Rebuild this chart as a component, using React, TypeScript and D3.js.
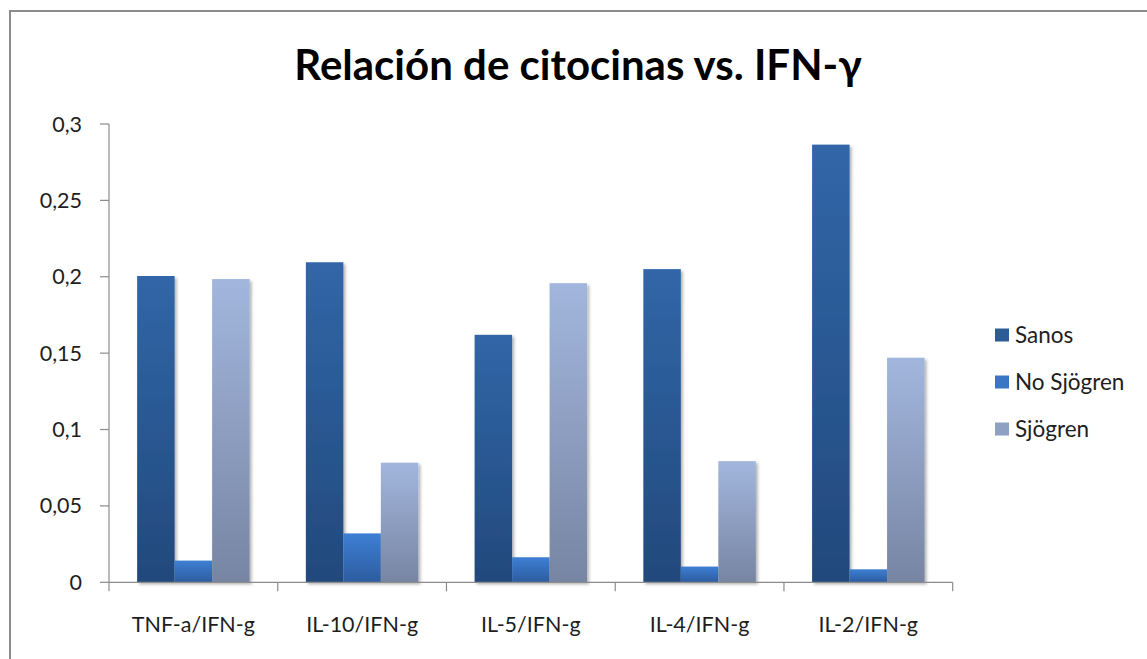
import * as d3 from "d3";

// categories along the x axis
const categories = [
  "TNF-a/IFN-g",
  "IL-10/IFN-g",
  "IL-5/IFN-g",
  "IL-4/IFN-g",
  "IL-2/IFN-g",
];

// series names, in legend order
const seriesNames = ["Sanos", "No Sjögren", "Sjögren"];

// values
const sanos = [0.2005, 0.2095, 0.162, 0.205, 0.2865];
const noSjogren = [0.0142, 0.032, 0.0164, 0.0103, 0.0085];
const sjogren = [0.1985, 0.0783, 0.1958, 0.0793, 0.147];

const yTicks = [0, 0.05, 0.1, 0.15, 0.2, 0.25, 0.3];

// gradient colours per series: [top, bottom, legend swatch]
const seriesColors = [
  ["#3166a8", "#22497c", "#2c5b96"],
  ["#3d7fd4", "#2d5c9f", "#3a76c6"],
  ["#a2b6dd", "#7785a3", "#8fa1c3"],
];

const width = 1147;
const height = 659;
const margin = { left: 109, right: 952.7, top: 124, bottom: 582.3 };

const font = "Lato, 'Open Sans', sans-serif";

export default function App() {
  const series = [sanos, noSjogren, sjogren];

  const x = d3
    .scaleBand<string>()
    .domain(categories)
    .range([margin.left, margin.right])
    .paddingInner(0)
    .paddingOuter(0);

  // gap width 150%: bars take 2/3 of the category, 1/6 empty on each side
  const inner = d3
    .scaleBand<number>()
    .domain(d3.range(seriesNames.length))
    .range([x.bandwidth() / 6, (x.bandwidth() * 5) / 6]);

  const y = d3.scaleLinear().domain([0, 0.3]).range([margin.bottom, margin.top]);

  const fmt = (v: number) => String(+v.toFixed(2)).replace(".", ",");

  const boundaries = d3.range(categories.length + 1).map((i) => margin.left + i * x.bandwidth());

  return (
    <svg
      width={width}
      height={height}
      style={{ position: "absolute", left: 0, top: 0, background: "#fff" }}
    >
      <defs>
        {seriesColors.map((c, i) => (
          <linearGradient key={i} id={`grad${i}`} x1="0" y1="0" x2="0" y2="1">
            <stop offset="0%" stopColor={c[0]} />
            <stop offset="100%" stopColor={c[1]} />
          </linearGradient>
        ))}
        <filter id="shadow" x="-20%" y="-5%" width="150%" height="115%">
          <feDropShadow dx="2" dy="2" stdDeviation="1.8" floodColor="#000" floodOpacity="0.3" />
        </filter>
      </defs>

      <rect width={width} height={height} fill="#fff" />
      {/* outer chart frame */}
      <rect x={10} y={11} width={width + 20} height={height + 20} fill="none" stroke="#8c8c8c" strokeWidth={2} />

      <text
        x={578}
        y={80}
        textAnchor="middle"
        fontFamily={font}
        fontWeight="bold"
        fontSize={42}
        fill="#000"
      >
        Relación de citocinas vs. IFN-γ
      </text>

      {/* bars */}
      {series.map((values, s) => (
        <g key={s} fill={`url(#grad${s})`} filter="url(#shadow)">
          {values.map((v, i) => (
            <rect
              key={i}
              x={(x(categories[i]) ?? 0) + (inner(s) ?? 0)}
              y={y(v)}
              width={inner.bandwidth()}
              height={y(0) - y(v)}
            />
          ))}
        </g>
      ))}

      {/* axes */}
      <g stroke="#8c8c8c" strokeWidth={1.2} fill="none">
        <line x1={margin.left} x2={margin.left} y1={y(0.3)} y2={y(0)} />
        {yTicks.map((t) => (
          <line key={t} x1={margin.left - 9} x2={margin.left} y1={y(t)} y2={y(t)} />
        ))}
        <line x1={margin.left} x2={margin.right} y1={y(0)} y2={y(0)} />
        {boundaries.map((b, i) => (
          <line key={i} x1={b} x2={b} y1={y(0)} y2={y(0) + 9} />
        ))}
      </g>
      <g fontFamily={font} fontSize={21.5} fill="#1e1e1e">
        {yTicks.map((t) => (
          <text key={t} x={82} y={y(t)} dy="0.35em" textAnchor="end">
            {fmt(t)}
          </text>
        ))}
        {categories.map((c) => (
          <text key={c} x={(x(c) ?? 0) + x.bandwidth() / 2} y={632} textAnchor="middle">
            {c}
          </text>
        ))}
      </g>

      {/* legend */}
      <g fontFamily={font} fontSize={22.5} fill="#1e1e1e">
        {seriesNames.map((name, i) => {
          const cy = 335 + i * 47;
          return (
            <g key={name}>
              <rect x={995} y={cy - 6.5} width={14} height={13} fill={seriesColors[i][2]} />
              <text x={1015} y={cy} dy="0.35em">
                {name}
              </text>
            </g>
          );
        })}
      </g>
    </svg>
  );
}
